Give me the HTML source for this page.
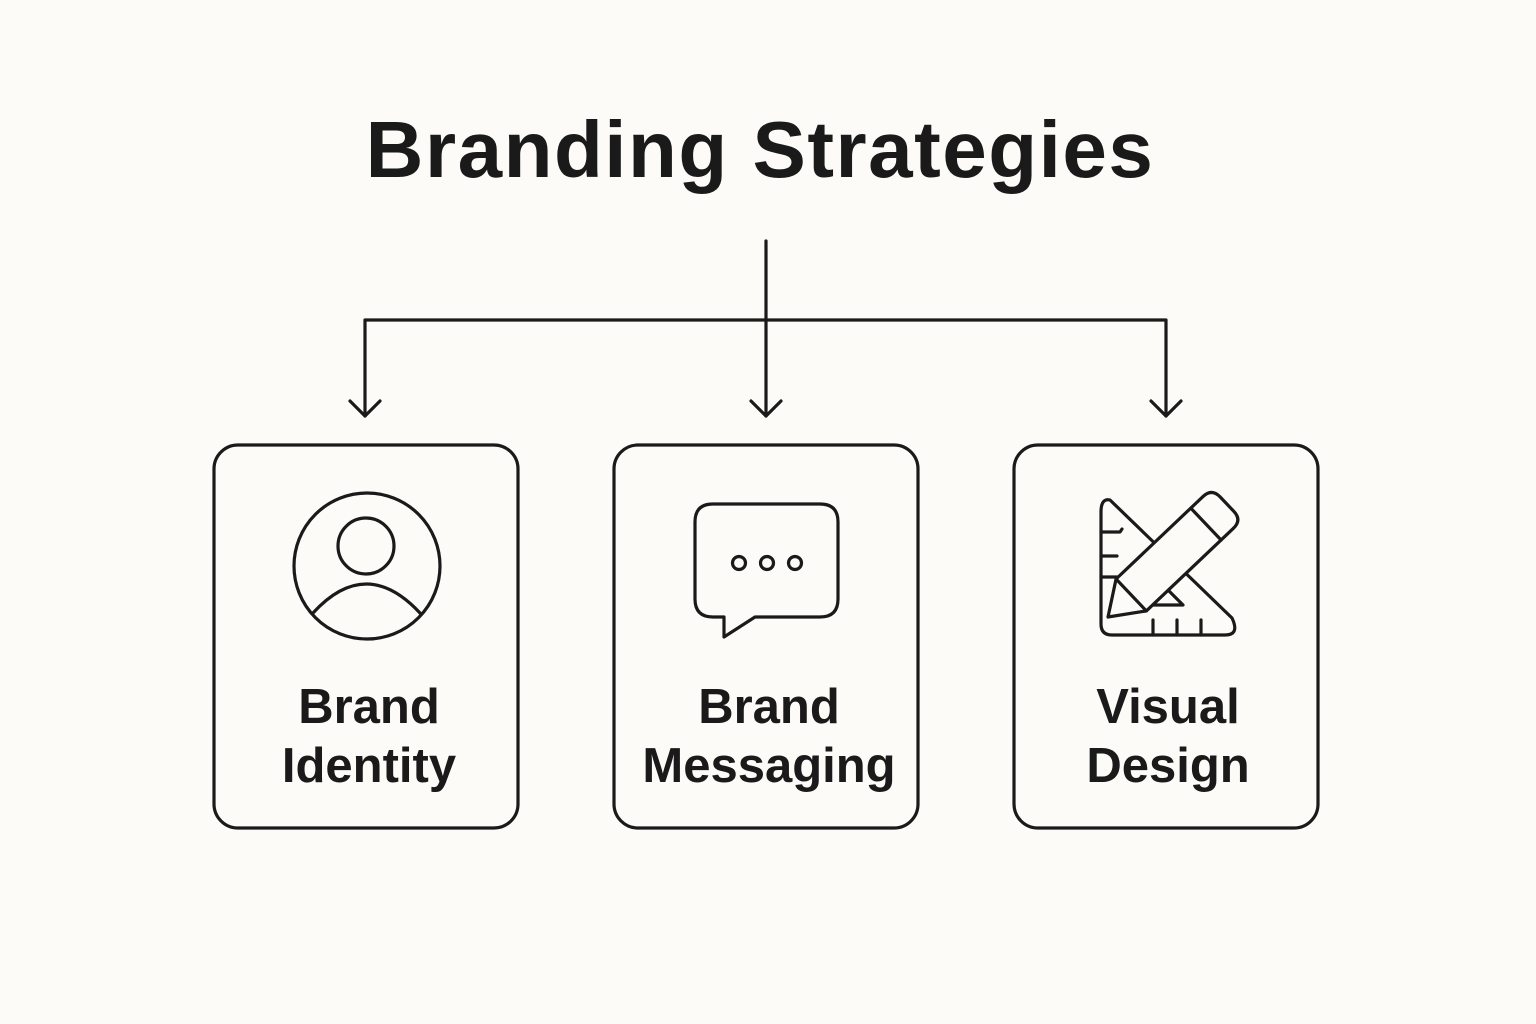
<!DOCTYPE html>
<html><head><meta charset="utf-8"><style>
html,body{margin:0;padding:0;background:#fcfbf7;}
svg{display:block}
text{font-family:"Liberation Sans",sans-serif;font-weight:bold;fill:#1a1a1a;text-anchor:middle}
</style></head><body>
<svg width="1536" height="1024" viewBox="0 0 1536 1024" xmlns="http://www.w3.org/2000/svg">
<rect width="1536" height="1024" fill="#fcfbf7"/>
<text x="760" y="177" font-size="80" letter-spacing="1.5">Branding Strategies</text>
<g fill="none" stroke="#1a1a1a" stroke-width="3.2" stroke-linecap="round" stroke-linejoin="round">
<path d="M766 241V416M365 416V320H1166V416"/>
<path d="M350 401L365 416L380 401M751 401L766 416L781 401M1151 401L1166 416L1181 401"/>
<rect x="214" y="445" width="304" height="383" rx="24"/>
<rect x="614" y="445" width="304" height="383" rx="24"/>
<rect x="1014" y="445" width="304" height="383" rx="24"/>
<circle cx="367" cy="566" r="73"/>
<circle cx="366" cy="546" r="28"/>
<path d="M313 613Q366 555 420 613"/>
<path d="M713 504H820Q838 504 838 522V599Q838 617 820 617H755L724 637V617H713Q695 617 695 599V522Q695 504 713 504Z"/>
<circle cx="739" cy="563" r="6.5"/>
<circle cx="767" cy="563" r="6.5"/>
<circle cx="795" cy="563" r="6.5"/>
<path d="M1110 500L1232 618Q1240 635 1225 635H1112Q1101 635 1101 624V512Q1101 498 1110 500Z"/>
<path d="M1138 560L1183 605H1138Z"/>
<path d="M1101 532H1120L1122 529M1101 556H1117M1101 577H1117M1153 635V620M1177 635V620M1201 635V620"/>
<g transform="translate(1108 617) rotate(-43.5)">
<path d="M0 0L32 -22H152Q164 -22 164 -10V10Q164 22 152 22H32Z" fill="#fcfbf7"/>
<path d="M32 -22V22M135 -22V22"/>
</g>
</g>
<text x="369" y="723" font-size="49">Brand</text>
<text x="369" y="782" font-size="49">Identity</text>
<text x="769" y="723" font-size="49">Brand</text>
<text x="769" y="782" font-size="49">Messaging</text>
<text x="1168" y="723" font-size="49">Visual</text>
<text x="1168" y="782" font-size="49">Design</text>
</svg>
</body></html>
